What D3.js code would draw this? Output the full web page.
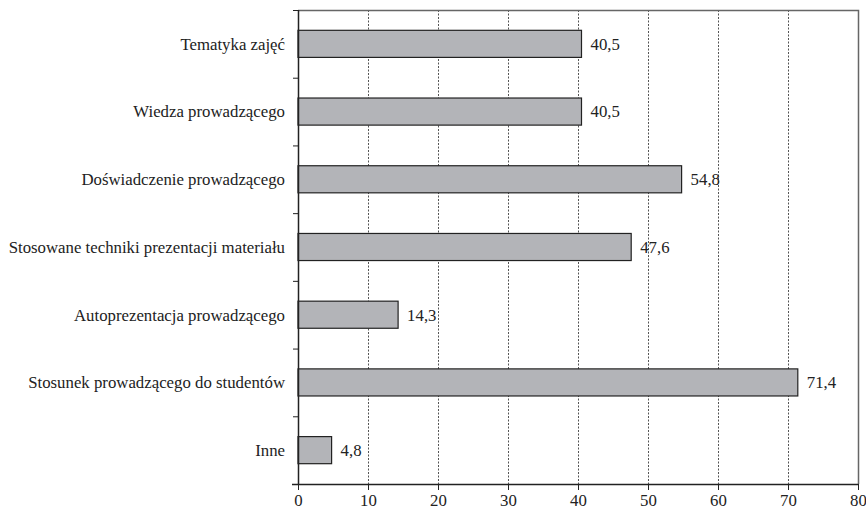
<!DOCTYPE html>
<html>
<head>
<meta charset="utf-8">
<script src="https://cdn.jsdelivr.net/npm/d3@7"></script>
<style>
  html, body { margin: 0; padding: 0; background: #fff; }
</style>
</head>
<body>
<svg id="chart" width="866" height="511"></svg>
<script>
// Categories (top to bottom) and their percentages
const categories = [
  "Tematyka zajęć",
  "Wiedza prowadzącego",
  "Doświadczenie prowadzącego",
  "Stosowane techniki prezentacji materiału",
  "Autoprezentacja prowadzącego",
  "Stosunek prowadzącego do studentów",
  "Inne"
];
const values = [40.5, 40.5, 54.8, 47.6, 14.3, 71.4, 4.8];
const valueLabels = ["40,5", "40,5", "54,8", "47,6", "14,3", "71,4", "4,8"];
const xTicks = [0, 10, 20, 30, 40, 50, 60, 70, 80];

const svg = d3.select("#chart");
const plotLeft = 298, plotRight = 858, plotTop = 10, plotBottom = 484;
const fontFamily = '"Liberation Serif"';
const fontSize = "16.8px";
const textColor = "#222";

const x = d3.scaleLinear().domain([0, 80]).range([plotLeft, plotRight]);
const y = d3.scaleBand().domain(categories).range([plotTop, plotBottom]).paddingInner(0.6).paddingOuter(0.3);
const band = (plotBottom - plotTop) / categories.length;

// Dotted vertical gridlines
svg.append("g")
  .selectAll("line")
  .data(xTicks.filter(t => t > 0 && t < 80))
  .join("line")
  .attr("x1", d => x(d) + 0.5).attr("x2", d => x(d) + 0.5)
  .attr("y1", plotTop).attr("y2", plotBottom)
  .attr("stroke", "#555").attr("stroke-width", 1)
  .attr("stroke-dasharray", "2,1.5");

// Frame on top and right
svg.append("path")
  .attr("d", `M${plotLeft},${plotTop + 0.5}H${plotRight + 0.5}V${plotBottom}`)
  .attr("fill", "none").attr("stroke", "#666").attr("stroke-width", 1.5);

// Bars
svg.append("g")
  .selectAll("rect")
  .data(categories)
  .join("rect")
  .attr("x", plotLeft)
  .attr("y", d => y(d))
  .attr("width", (d, i) => x(values[i]) - plotLeft)
  .attr("height", y.bandwidth())
  .attr("fill", "#b3b4b8")
  .attr("stroke", "#222").attr("stroke-width", 1.2);

// Value labels
svg.append("g")
  .selectAll("text")
  .data(categories)
  .join("text")
  .attr("x", (d, i) => x(values[i]) + 9)
  .attr("y", d => y(d) + y.bandwidth() / 2)
  .attr("dy", "0.35em")
  .style("font-family", fontFamily).style("font-size", fontSize).style("fill", textColor)
  .text((d, i) => valueLabels[i]);

// Bottom axis
const xAxis = svg.append("g")
  .attr("transform", `translate(0,${plotBottom})`)
  .call(d3.axisBottom(x).tickValues(xTicks).tickSize(6).tickPadding(4).tickFormat(d3.format("d")));
xAxis.attr("font-family", null).attr("font-size", null);
xAxis.select(".domain").attr("stroke", "#222").attr("stroke-width", 1.5)
  .attr("d", `M${plotLeft - 6},0.5H${plotRight + 0.5}`);
xAxis.selectAll(".tick line").attr("stroke", "#222");
xAxis.selectAll("text")
  .style("font-family", fontFamily).style("font-size", fontSize).style("fill", textColor);

// Left axis with ticks between categories
const yAxisG = svg.append("g");
yAxisG.append("line")
  .attr("x1", plotLeft + 0.5).attr("x2", plotLeft + 0.5)
  .attr("y1", plotTop).attr("y2", plotBottom)
  .attr("stroke", "#222").attr("stroke-width", 1.5);
yAxisG.selectAll("line.sep")
  .data(d3.range(categories.length))
  .join("line")
  .attr("class", "sep")
  .attr("x1", plotLeft - 5).attr("x2", plotLeft)
  .attr("y1", i => plotTop + i * band + 0.5).attr("y2", i => plotTop + i * band + 0.5)
  .attr("stroke", "#222");

// Category labels
svg.append("g")
  .selectAll("text")
  .data(categories)
  .join("text")
  .attr("x", plotLeft - 13)
  .attr("y", d => y(d) + y.bandwidth() / 2)
  .attr("dy", "0.35em")
  .attr("text-anchor", "end")
  .style("font-family", fontFamily).style("font-size", fontSize).style("fill", textColor)
  .text(d => d);
</script>
</body>
</html>
